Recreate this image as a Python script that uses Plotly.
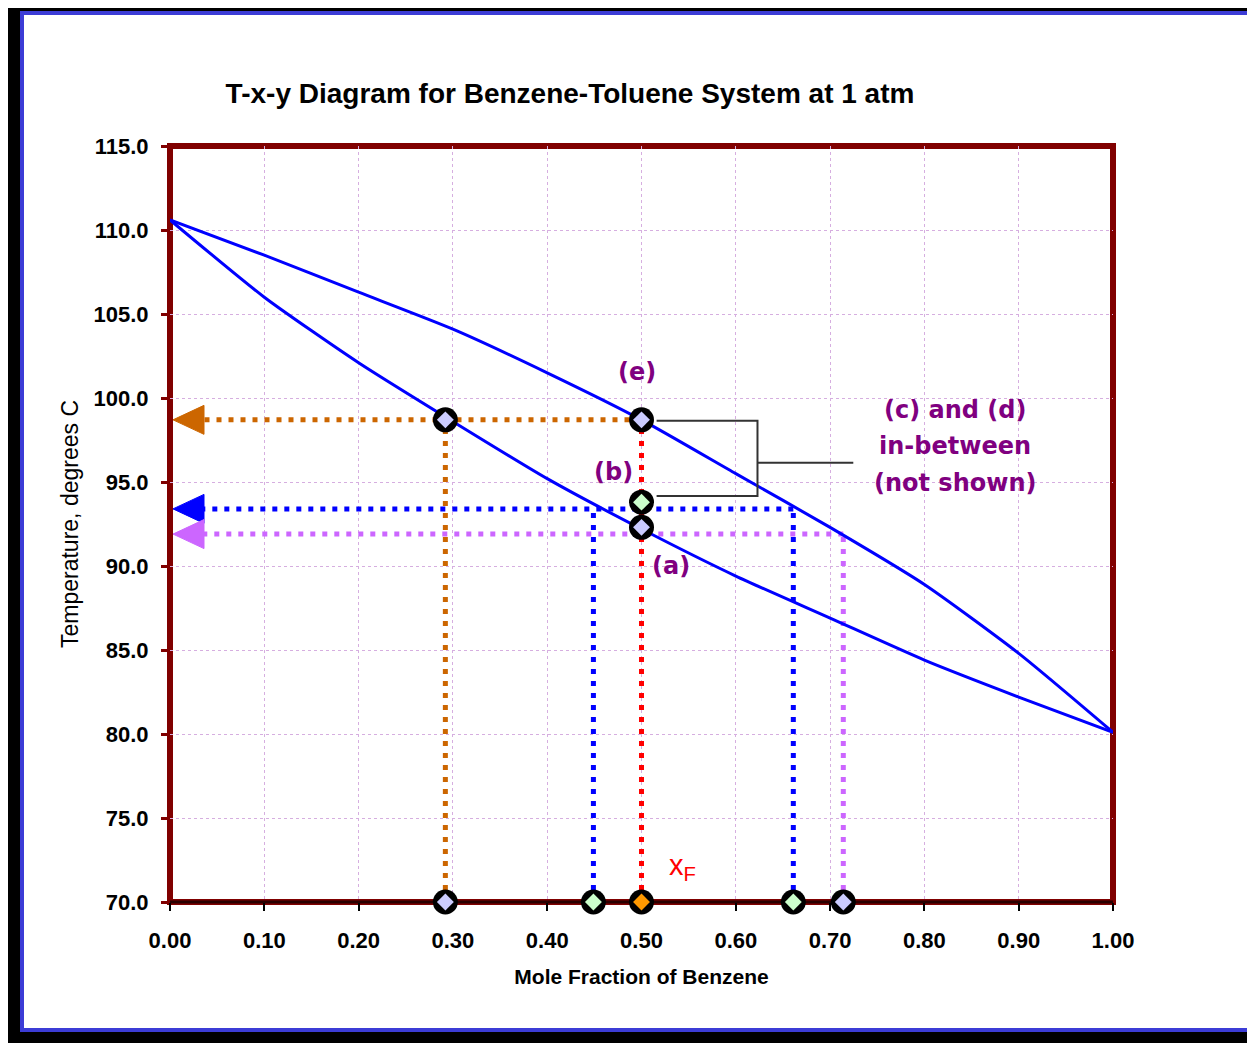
import plotly.graph_objects as go

# ---------------- data ----------------
x_frac = [0.0, 0.1, 0.2, 0.3, 0.4, 0.5, 0.6, 0.7, 0.8, 0.9, 1.0]
T_bubble = [110.6, 106.0, 102.1, 98.6, 95.2, 92.2, 89.4, 86.9, 84.4, 82.2, 80.1]
T_dew = [110.6, 108.5, 106.3, 104.1, 101.5, 98.7, 95.5, 92.3, 88.9, 84.8, 80.1]

x_feed = 0.500
T_axis = 70.0

# tie lines (e), (b)/(c)/(d), (a)
tie_T = [98.7, 93.4, 91.9]
tie_x_liq = [0.292, 0.449, 0.500]
tie_x_vap = [0.500, 0.661, 0.714]
tie_colors = ["#cc6600", "#0000ff", "#cc66ff"]

# points on the x axis
axis_pts_x = [0.292, 0.449, 0.500, 0.661, 0.714]
axis_pts_fill = ["#ccccff", "#ccffcc", "#ff9900", "#ccffcc", "#ccccff"]

# points on the curves
curve_pts_x = [0.292, 0.500, 0.500, 0.500]
curve_pts_T = [98.7, 98.7, 93.8, 92.3]
curve_pts_fill = ["#ccccff", "#ccccff", "#ccffcc", "#ccccff"]

# callout bracket
bracket_x = [0.516, 0.623, 0.623, 0.516]
bracket_T = [98.65, 98.65, 94.17, 94.17]
bracket_mid_x = [0.623, 0.7246]
bracket_mid_T = [96.15, 96.15]

x_ticks = [0.0, 0.1, 0.2, 0.3, 0.4, 0.5, 0.6, 0.7, 0.8, 0.9, 1.0]
y_ticks = [70, 75, 80, 85, 90, 95, 100, 105, 110, 115]

# ---------------- figure ----------------
OFF = 8                      # page body margin
W_REF, H_REF = 1255, 1043
W, H = W_REF - OFF, H_REF - OFF
L, R, T, B = 170, 1113, 146, 902     # plot area in reference pixels
Y_MIN, Y_MAX = 70, 115

def px2x(px):
    return (px - L) / (R - L)

def py2y(py):
    return (B - py) / (B - T)

DEG_PER_PX = (Y_MAX - Y_MIN) / (B - T)
ARROW_TIP = px2x(173)
ARROW_BASE = px2x(204)
ARROW_HALF = 14.5 * DEG_PER_PX

fig = go.Figure()
DOT = "5px,7px"

# horizontal tie lines toward the T axis
for Tv, xv, c in zip(tie_T, tie_x_vap, tie_colors):
    fig.add_trace(go.Scatter(x=[xv, ARROW_BASE], y=[Tv, Tv], mode="lines",
                             line=dict(color=c, width=5, dash=DOT),
                             hoverinfo="skip", showlegend=False))
# vertical drop lines
for Tv, xl, xv, c in zip(tie_T, tie_x_liq, tie_x_vap, tie_colors):
    for xx in (xl, xv):
        if xx != x_feed:
            fig.add_trace(go.Scatter(x=[xx, xx], y=[T_axis, Tv], mode="lines",
                                     line=dict(color=c, width=5, dash=DOT),
                                     hoverinfo="skip", showlegend=False))
fig.add_trace(go.Scatter(x=[x_feed, x_feed], y=[T_axis, max(tie_T)], mode="lines",
                         line=dict(color="#ff0000", width=5, dash=DOT),
                         hoverinfo="skip", showlegend=False))

# arrowheads (filled triangles pointing to the T axis)
for Tv, c in zip(tie_T, tie_colors):
    fig.add_trace(go.Scatter(x=[ARROW_TIP, ARROW_BASE, ARROW_BASE, ARROW_TIP],
                             y=[Tv, Tv + ARROW_HALF, Tv - ARROW_HALF, Tv],
                             mode="lines", fill="toself", fillcolor=c,
                             line=dict(color=c, width=1),
                             hoverinfo="skip", showlegend=False))

# equilibrium curves
fig.add_trace(go.Scatter(x=x_frac, y=T_dew, mode="lines", line_shape="spline",
                         line=dict(color="#0000ff", width=3, smoothing=0.6),
                         showlegend=False))
fig.add_trace(go.Scatter(x=x_frac, y=T_bubble, mode="lines", line_shape="spline",
                         line=dict(color="#0000ff", width=3, smoothing=0.6),
                         showlegend=False))

# callout bracket
fig.add_trace(go.Scatter(x=bracket_x, y=bracket_T, mode="lines",
                         line=dict(color="#333333", width=2), hoverinfo="skip", showlegend=False))
fig.add_trace(go.Scatter(x=bracket_mid_x, y=bracket_mid_T, mode="lines",
                         line=dict(color="#333333", width=2), hoverinfo="skip", showlegend=False))

# markers
all_x = axis_pts_x + curve_pts_x
all_T = [T_axis] * len(axis_pts_x) + curve_pts_T
all_fill = axis_pts_fill + curve_pts_fill
fig.add_trace(go.Scatter(x=all_x, y=all_T, mode="markers",
                         marker=dict(symbol="circle", size=25, color="black"),
                         cliponaxis=False, hoverinfo="skip", showlegend=False))
fig.add_trace(go.Scatter(x=all_x, y=all_T, mode="markers",
                         marker=dict(symbol="diamond", size=13, color=all_fill),
                         cliponaxis=False, showlegend=False))

# ---------------- decorations ----------------
shapes = [
    dict(type="rect", xref="paper", yref="paper",
         x0=px2x(22), x1=px2x(1253), y0=py2y(1030), y1=py2y(13),
         fillcolor="white", line=dict(color="#3c3cd6", width=4), layer="below"),
    dict(type="rect", xref="paper", yref="paper", x0=0, x1=1, y0=0, y1=1,
         line=dict(color="#800000", width=6), layer="below"),
    dict(type="line", xref="paper", yref="paper", x0=0, x1=1, y0=0, y1=0,
         line=dict(color="#2a0000", width=3), layer="below"),
]

purple = "#800080"
lab_font = dict(family="DejaVu Sans", size=24, color=purple, weight="bold")
annotations = [
    dict(x=0.495, y=101.55, text="(e)"),
    dict(x=0.470, y=95.6, text="(b)"),
    dict(x=0.531, y=90.0, text="(a)"),
    dict(x=0.8324, y=99.29, text="(c) and (d)"),
    dict(x=0.8324, y=97.14, text="in-between"),
    dict(x=0.8324, y=94.94, text="(not shown)"),
]
for a in annotations:
    a.update(xref="x", yref="y", showarrow=False, font=lab_font,
             xanchor="center", yanchor="middle")
annotations.append(dict(x=0.544, y=72.1, xref="x", yref="y", showarrow=False,
                        text="x<sub>F</sub>", xanchor="center", yanchor="middle",
                        font=dict(family="Liberation Sans", size=29, color="#ff0000")))

tick_font = dict(family="Liberation Sans", size=22, color="black", weight="bold")
grid_col = "#d6aee0"

fig.update_layout(
    width=W, height=H,
    margin=dict(l=L - OFF, r=W - (R - OFF), t=T - OFF, b=H - (B - OFF), pad=0),
    paper_bgcolor="black",
    plot_bgcolor="rgba(0,0,0,0)",
    shapes=shapes,
    annotations=annotations,
    title=dict(text="T-x-y Diagram for Benzene-Toluene System at 1 atm",
               x=px2x(570), xref="paper", xanchor="center",
               y=1 - (93 - OFF) / H, yref="container", yanchor="middle",
               font=dict(family="Liberation Sans", size=28, color="black", weight="bold")),
    xaxis=dict(range=[0, 1], tickvals=x_ticks, ticktext=[f"{v:.2f}" for v in x_ticks],
               showline=False, zeroline=False,
               showgrid=True, gridcolor=grid_col, griddash="dot", gridwidth=1,
               ticks="outside", ticklen=8, tickwidth=2, tickcolor="black",
               ticklabelstandoff=11, tickfont=tick_font, layer="below traces",
               title=dict(text="Mole Fraction of Benzene", standoff=16,
                          font=dict(family="Liberation Sans", size=21, color="black",
                                    weight="bold"))),
    yaxis=dict(range=[Y_MIN, Y_MAX], tickvals=y_ticks, ticktext=[f"{v:.1f}" for v in y_ticks],
               showline=False, zeroline=False,
               showgrid=True, gridcolor=grid_col, griddash="dot", gridwidth=1,
               ticks="outside", ticklen=8, tickwidth=3, tickcolor="#800000",
               ticklabelstandoff=8, tickfont=tick_font, layer="below traces",
               title=dict(text="Temperature, degrees C", standoff=8,
                          font=dict(family="Liberation Sans", size=23, color="black"))),
)

fig.write_html("out.html")
